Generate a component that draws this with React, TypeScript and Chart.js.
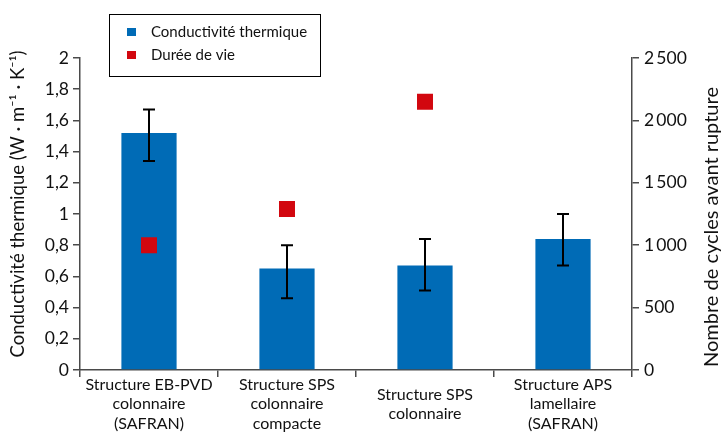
import React, { useEffect, useRef } from "react";
import { Chart, registerables } from "chart.js";

Chart.register(...registerables);

const categories: string[][] = [
  ["Structure EB-PVD", "colonnaire", "(SAFRAN)"],
  ["Structure SPS", "colonnaire", "compacte"],
  ["Structure SPS", "colonnaire"],
  ["Structure APS", "lamellaire", "(SAFRAN)"],
];
const conductivity: number[] = [1.52, 0.65, 0.67, 0.84];
const conductivityLow: number[] = [1.34, 0.46, 0.51, 0.67];
const conductivityHigh: number[] = [1.67, 0.8, 0.84, 1.0];
const lifetime: (number | null)[] = [1000, 1290, 2150, null];
const leftTicks = { min: 0, max: 2, step: 0.2 };
const rightTicks = { min: 0, max: 2500, step: 500 };
const leftTitle = "Conductivité thermique (W · m⁻¹ · K⁻¹)";
const rightTitle = "Nombre de cycles avant rupture";

const FONT = "Lato, 'Liberation Sans', sans-serif";
const BLUE = "#006BB6";
const RED = "#D2070F";
const AXIS = "#4a4a4a";

const errorBars = {
  id: "errorBars",
  afterDatasetsDraw(chart: any) {
    const meta = chart.getDatasetMeta(0);
    const y = chart.scales.y;
    const ctx = chart.ctx;
    ctx.save();
    ctx.strokeStyle = "#000";
    ctx.lineWidth = 2;
    meta.data.forEach((bar: any, i: number) => {
      const x = bar.x;
      const yl = y.getPixelForValue(conductivityLow[i]);
      const yh = y.getPixelForValue(conductivityHigh[i]);
      ctx.beginPath();
      ctx.moveTo(x, yl);
      ctx.lineTo(x, yh);
      ctx.moveTo(x - 6, yl);
      ctx.lineTo(x + 6, yl);
      ctx.moveTo(x - 6, yh);
      ctx.lineTo(x + 6, yh);
      ctx.stroke();
    });
    ctx.restore();
  },
};

const boxLegend = {
  id: "boxLegend",
  afterDraw(chart: any) {
    const ctx = chart.ctx;
    ctx.save();
    ctx.strokeStyle = "#000";
    ctx.lineWidth = 1;
    ctx.strokeRect(109.5, 14.5, 211, 62);
    ctx.font = `15px ${FONT}`;
    ctx.textBaseline = "middle";
    const rows = [32, 55];
    chart.data.datasets.forEach((ds: any, i: number) => {
      ctx.fillStyle = ds.backgroundColor;
      ctx.fillRect(127, rows[i] - 4, 9, 8);
      ctx.fillStyle = "#111";
      ctx.fillText(ds.label, 151, rows[i]);
    });
    ctx.restore();
  },
};

const axisTitles = {
  id: "axisTitles",
  afterDraw(chart: any) {
    const ctx = chart.ctx;
    const ca = chart.chartArea;
    const mid = (ca.top + ca.bottom) / 2;
    ctx.save();
    ctx.fillStyle = "#111";
    ctx.textAlign = "center";
    ctx.textBaseline = "middle";
    ctx.save();
    ctx.translate(18, mid - 10);
    ctx.rotate(-Math.PI / 2);
    ctx.font = `18.5px ${FONT}`;
    ctx.fillText(leftTitle, 0, 0);
    ctx.restore();
    ctx.save();
    ctx.translate(712, mid + 13);
    ctx.rotate(-Math.PI / 2);
    ctx.font = `20px ${FONT}`;
    ctx.fillText(rightTitle, 0, 0);
    ctx.restore();
    ctx.restore();
  },
};

function fmtLeft(v: number): string {
  const r = Math.round(v * 10) / 10;
  return Number.isInteger(r) ? String(r) : r.toFixed(1).replace(".", ",");
}
function fmtRight(v: number): string {
  if (v >= 1000) {
    const th = Math.floor(v / 1000);
    const rest = String(v % 1000).padStart(3, "0");
    return `${th}\u2009${rest}`;
  }
  return String(v);
}

export default function App() {
  const ref = useRef<HTMLCanvasElement | null>(null);
  useEffect(() => {
    document.body.style.margin = "0";
    if (!ref.current) return;
    const chart = new Chart(ref.current, {
      type: "bar",
      data: {
        labels: categories,
        datasets: [
          {
            type: "bar",
            label: "Conductivité thermique",
            data: conductivity,
            backgroundColor: BLUE,
            yAxisID: "y",
            categoryPercentage: 1,
            barPercentage: 0.4,
            order: 2,
          },
          {
            type: "line",
            label: "Durée de vie",
            data: lifetime,
            backgroundColor: RED,
            borderColor: RED,
            showLine: false,
            pointStyle: "rect",
            pointRadius: 11.3,
            pointHoverRadius: 11.3,
            pointBorderWidth: 0,
            yAxisID: "y1",
            order: 1,
          } as any,
        ],
      },
      options: {
        animation: false,
        responsive: false,
        maintainAspectRatio: false,
        layout: { padding: { top: 58, left: 0, right: 0, bottom: 0 } },
        plugins: { legend: { display: false }, tooltip: { enabled: false } },
        scales: {
          x: {
            grid: {
              offset: true,
              drawOnChartArea: false,
              drawTicks: true,
              tickLength: 7,
              color: AXIS,
              lineWidth: 1.5,
            },
            border: { display: true, color: AXIS, width: 1.5 },
            ticks: {
              color: "#111",
              font: { family: FONT, size: 16, lineHeight: 1.2 },
              padding: 8,
              crossAlign: "center",
              maxRotation: 0,
              autoSkip: false,
            },
            afterFit(s: any) {
              s.height = 72;
            },
          },
          y: {
            position: "left",
            min: leftTicks.min,
            max: leftTicks.max,
            grid: {
              drawOnChartArea: false,
              drawTicks: true,
              tickLength: 7,
              color: AXIS,
              lineWidth: 1.5,
            },
            border: { display: true, color: AXIS, width: 1.5 },
            ticks: {
              stepSize: leftTicks.step,
              color: "#111",
              font: { family: FONT, size: 17.5 },
              padding: 4,
              callback: (v: any) => fmtLeft(Number(v)),
            },
            afterFit(s: any) {
              s.width = 80;
            },
          },
          y1: {
            position: "right",
            min: rightTicks.min,
            max: rightTicks.max,
            grid: {
              drawOnChartArea: false,
              drawTicks: true,
              tickLength: 7,
              color: AXIS,
              lineWidth: 1.5,
            },
            border: { display: true, color: AXIS, width: 1.5 },
            ticks: {
              stepSize: rightTicks.step,
              color: "#111",
              font: { family: FONT, size: 17.5 },
              padding: 5,
              callback: (v: any) => fmtRight(Number(v)),
            },
            afterFit(s: any) {
              s.width = 96;
            },
          },
        },
      },
      plugins: [errorBars, boxLegend, axisTitles],
    });
    return () => chart.destroy();
  }, []);
  return (
    <div style={{ width: 728, height: 442, background: "#fff" }}>
      <canvas ref={ref} width={728} height={442} />
    </div>
  );
}
